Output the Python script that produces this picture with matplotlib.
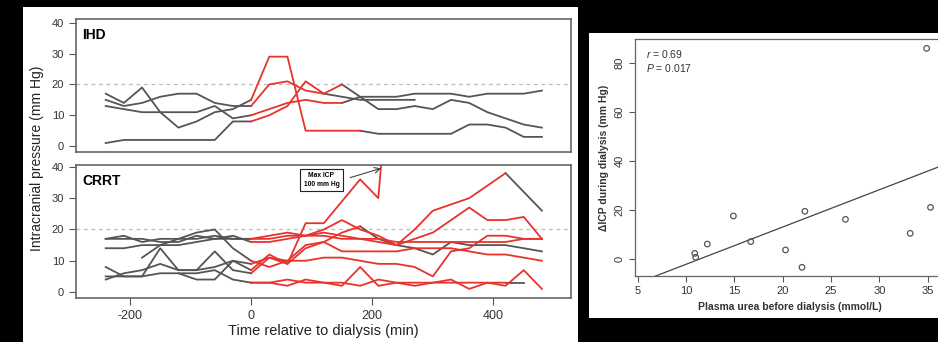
import matplotlib
matplotlib.use('agg')
import matplotlib.pyplot as plt
from matplotlib.patches import Rectangle
import numpy as np

plt.rcParams['font.family'] = ['Liberation Sans', 'DejaVu Sans']
plt.rcParams['axes.unicode_minus'] = False
plt.rcParams['mathtext.fontset'] = 'custom'
plt.rcParams['mathtext.it'] = 'Liberation Sans:italic'
plt.rcParams['mathtext.rm'] = 'Liberation Sans'

nan = np.nan

# time grid (min relative to dialysis start)
times = [-240, -210, -180, -150, -120, -90, -60, -30, 0, 30, 60, 90, 120,
         150, 180, 210, 240, 270, 300, 330, 360, 390, 420, 450, 480]

# IHD patients, ICP (mm Hg) per time point
ihd_icp = [
    [17, 14, 19, 11, 6, 8, 11, 12, 15, 29, 29, 5, 5, 5, 5, 4, 4, 4, 4, 4, 7, 7, 6, 3, 3],
    [15, 13, 14, 16, 17, 17, 14, 13, 13, 20, 21, 18, 17, 20, 16, 16, 16, 17, 17, 17, 16, 17, 17, 17, 18],
    [13, 12, 11, 11, 11, 11, 13, 9, 10, 12, 14, 15, 14, 14, 16, 12, 12, 13, 12, 15, 14, 11, 9, 7, 6],
    [1, 2, 2, 2, 2, 2, 2, 8, 8, 10, 13, 21, 17, 16, 15, 15, 15, 15, nan, nan, nan, nan, nan, nan, nan],
]
ihd_end = [180, 150, 150, 120]

# CRRT patients
crrt_icp = [
    [8, 5, 5, 14, 7, 7, 13, 7, 6, 11, 9, 22, 22, 29, 36, 30, 100, nan, nan, nan, nan, nan, nan, nan, nan],
    [17, 18, 16, 17, 17, 17, 18, 17, 17, 18, 19, 18, 19, 18, 17, 16, 15, 20, 26, 28, 30, 34, 38, 32, 26],
    [17, 17, 17, 16, 16, 18, 17, 18, 16, 16, 17, 18, 20, 23, 20, 18, 15, 17, 19, 23, 27, 23, 23, 24, 17],
    [14, 14, 15, 15, 15, 16, 17, 17, 17, 17, 18, 18, 18, 17, 17, 17, 16, 16, 16, 16, 16, 16, 16, 17, 17],
    [nan, nan, 11, 15, 17, 19, 20, 14, 10, 8, 10, 10, 11, 11, 10, 9, 9, 8, 5, 13, 14, 18, 18, 17, 17],
    [4, 6, 7, 9, 7, 7, 8, 10, 9, 11, 10, 15, 16, 13, 13, 13, 13, 14, 14, 14, 13, 12, 12, 11, 10],
    [nan, nan, nan, nan, 6, 4, 4, 10, 7, 12, 9, 14, 16, 19, 21, 17, 15, 14, 12, 16, 15, 15, 15, 14, 13],
    [5, 5, 5, 6, 6, 6, 7, 4, 3, 3, 2, 4, 3, 2, 8, 2, 3, 2, 3, 4, 1, 3, 2, 7, 1],
    [nan, nan, nan, nan, nan, nan, nan, nan, 3, 3, 4, 3, 3, 3, 2, 4, 3, 3, 3, 3, 3, 3, 3, 3, nan],
]
crrt_end = [240, 420, 480, 480, 480, 480, 180, 480, 420]

# scatter: plasma urea vs delta ICP
urea = [10.9, 11.0, 12.2, 14.9, 16.7, 20.3, 22.0, 22.3, 26.5, 33.2, 35.3, 34.9]
d_icp = [2.3, 0.7, 6.1, 17.6, 7.1, 3.7, -3.4, 19.5, 16.2, 10.5, 21.1, 86.1]

RED = '#e8332c'
GRAY = '#555555'
W, H = 938, 342


def draw_patients(ax, data, ends):
    t = np.array(times)
    for vals, end in zip(data, ends):
        v = np.array(vals, float)
        pre = t <= 0
        post = t >= end
        ax.plot(t[pre], v[pre], color=GRAY, lw=1.3, zorder=2)
        ax.plot(t[post], v[post], color=GRAY, lw=1.3, zorder=2)
    for vals, end in zip(data, ends):
        v = np.array(vals, float)
        dial = (t >= 0) & (t <= end)
        ax.plot(t[dial], v[dial], color=RED, lw=1.3, zorder=3)


def style(ax):
    for s in ax.spines.values():
        s.set_color('#666666')
        s.set_linewidth(1.2)
    ax.tick_params(direction='out', length=5, color='#555555', labelcolor='#333333')


def px_axes(l, t, r, b):
    return fig.add_axes([l / W, 1 - b / H, (r - l) / W, (b - t) / H])


fig = plt.figure(figsize=(W / 100, H / 100), dpi=100, facecolor='black')
fig.add_artist(Rectangle((23 / W, 0), (578 - 23) / W, (H - 7) / H,
                         transform=fig.transFigure, facecolor='white', edgecolor='none', zorder=-1))
fig.add_artist(Rectangle((589 / W, 1 - 318 / H), (W - 589) / W + 0.05, (318 - 33) / H,
                         transform=fig.transFigure, facecolor='white', edgecolor='none', zorder=-1))

# IHD panel
ax1 = px_axes(76, 19, 571, 152)
draw_patients(ax1, ihd_icp, ihd_end)
ax1.axhline(20, color='#bbbbbb', ls=(0, (3, 3)), lw=0.9, zorder=1)
ax1.set_xlim(-289, 528)
ax1.set_ylim(-1.9, 41.2)
ax1.set_yticks([0, 10, 20, 30, 40])
ax1.set_xticks([])
style(ax1)
ax1.tick_params(axis='y', labelsize=8)
ax1.text(0.012, 0.93, 'IHD', transform=ax1.transAxes, fontsize=10, fontweight='bold', va='top')

# CRRT panel
ax2 = px_axes(76, 165, 571, 298)
draw_patients(ax2, crrt_icp, crrt_end)
ax2.axhline(20, color='#bbbbbb', ls=(0, (3, 3)), lw=0.9, zorder=1)
ax2.set_xlim(-289, 528)
ax2.set_ylim(-1.9, 40.6)
ax2.set_yticks([0, 10, 20, 30, 40])
ax2.set_xticks([-200, 0, 200, 400])
style(ax2)
ax2.tick_params(axis='y', labelsize=8)
ax2.tick_params(axis='x', labelsize=9)
ax2.text(0.012, 0.93, 'CRRT', transform=ax2.transAxes, fontsize=10, fontweight='bold', va='top')
ax2.annotate('', xy=(219, 39.8), xytext=(159, 36.3),
             arrowprops=dict(arrowstyle='->', color='#444444', lw=0.8))
ax2.text(116, 35.8, 'Max ICP\n100 mm Hg', fontsize=4.8, fontweight='bold', ha='center', va='center',
         linespacing=1.3, bbox=dict(boxstyle='square,pad=0.5', facecolor='white', edgecolor='#222222', lw=0.8))

fig.text(37 / W, 1 - 158 / H, 'Intracranial pressure (mm Hg)', rotation=90,
         ha='center', va='center', fontsize=10, color='#222222')
fig.text(323 / W, 1 - 331 / H, 'Time relative to dialysis (min)',
         ha='center', va='center', fontsize=10.5, color='#222222')

# scatter panel
ax3 = px_axes(635, 39.3, 945, 276)
ax3.scatter(urea, d_icp, s=16, facecolors='none', edgecolors='#555555', linewidths=0.9, zorder=3)
k, b0 = np.polyfit(urea, d_icp, 1)
xs = np.array([0, 45])
ax3.plot(xs, k * xs + b0, color='#444444', lw=0.9, zorder=2)
ax3.set_xlim(4.72, 36.8)
ax3.set_ylim(-6.95, 89.8)
ax3.set_xticks([5, 10, 15, 20, 25, 30, 35])
ax3.set_yticks([0, 20, 40, 60, 80])
style(ax3)
for s in ax3.spines.values():
    s.set_linewidth(0.9)
ax3.tick_params(labelsize=8, length=4)
for lab in ax3.get_yticklabels():
    lab.set_rotation(90)
    lab.set_va('center')
ax3.text(0.035, 0.92, '$\\it{r}$ = 0.69', transform=ax3.transAxes, fontsize=7.5, color='#333333')
ax3.text(0.035, 0.86, '$\\it{P}$ = 0.017', transform=ax3.transAxes, fontsize=7.5, color='#333333')
ax3.set_xlabel('Plasma urea before dialysis (mmol/L)', fontsize=7.5, fontweight='bold',
               color='#333333', labelpad=4)
ax3.set_ylabel('\u0394ICP during dialysis (mm Hg)', fontsize=7.5, fontweight='bold',
               color='#333333', labelpad=4)

fig.savefig('out.png', dpi=100, facecolor='black')
